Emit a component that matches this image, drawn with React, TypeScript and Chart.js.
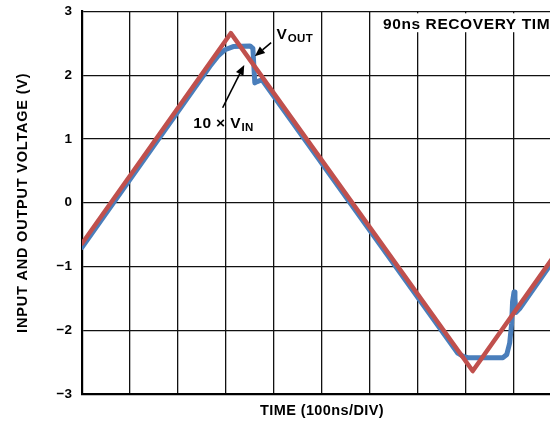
import React, { useEffect, useRef } from 'react';
import { Chart, registerables } from 'chart.js';

Chart.register(...registerables);

// ---- data (x in time divisions of 100ns, y in volts) ----
const xMin = 0;
const xMax = 10;
const yTicks = [-3, -2, -1, 0, 1, 2, 3];
const yTickLabels = ['−3', '−2', '−1', '0', '1', '2', '3'];

const vinX = [0, 3.1, 8.14, 10];
const vinY = [-0.64, 2.66, -2.64, -0.66];

const voutX = [0, 2.665, 2.83, 2.98, 3.15, 3.5, 3.56, 3.58, 3.6, 3.65, 3.75, 7.83, 7.94, 8.04, 8.77, 8.85, 8.91, 8.95, 8.97, 9.0, 9.02, 9.04, 9.12, 9.75, 10];
const voutY = [-0.7, 2.14, 2.3, 2.4, 2.45, 2.46, 2.42, 2.15, 1.88, 1.9, 1.93, -2.36, -2.41, -2.43, -2.43, -2.38, -2.2, -1.9, -1.55, -1.4, -1.5, -1.72, -1.66, -0.98, -0.72];

const seriesNames = ['10 × VIN', 'VOUT'];
const xTitle = 'TIME (100ns/DIV)';
const yTitle = 'INPUT AND OUTPUT VOLTAGE (V)';
const noteText = '90ns RECOVERY TIME';

const FONT = "'Liberation Sans', Arial, Helvetica, sans-serif";

// annotation placement (data units)
const annotations = {
  note: { x: 6.27, y: 2.73 },
  vout: { x: 4.05, y: 2.57, arrowFrom: { x: 3.94, y: 2.51 }, arrowTo: { x: 3.6, y: 2.3 } },
  vin: { x: 2.32, y: 1.17, arrowFrom: { x: 2.93, y: 1.49 }, arrowTo: { x: 3.38, y: 2.16 } },
};

function arrow(ctx: CanvasRenderingContext2D, x1: number, y1: number, x2: number, y2: number) {
  const ang = Math.atan2(y2 - y1, x2 - x1);
  const len = 10;
  const hw = 4.2;
  const bx = x2 - Math.cos(ang) * len;
  const by = y2 - Math.sin(ang) * len;
  ctx.beginPath();
  ctx.moveTo(x1, y1);
  ctx.lineTo(bx, by);
  ctx.lineWidth = 1.6;
  ctx.strokeStyle = '#000';
  ctx.stroke();
  ctx.beginPath();
  ctx.moveTo(x2, y2);
  ctx.lineTo(bx + Math.sin(ang) * hw, by - Math.cos(ang) * hw);
  ctx.lineTo(bx - Math.sin(ang) * hw, by + Math.cos(ang) * hw);
  ctx.closePath();
  ctx.fillStyle = '#000';
  ctx.fill();
}

function subText(ctx: CanvasRenderingContext2D, main: string, sub: string, x: number, y: number) {
  ctx.textAlign = 'left';
  ctx.textBaseline = 'alphabetic';
  ctx.font = `bold 15.5px ${FONT}`;
  ctx.fillText(main, x, y);
  const w = ctx.measureText(main).width;
  ctx.font = `bold 11.5px ${FONT}`;
  ctx.fillText(sub, x + w + 0.5, y + 3);
}

const annotPlugin = {
  id: 'annotPlugin',
  afterDraw(chart: any) {
    const { ctx, scales, chartArea } = chart;
    const xs = scales.x;
    const ys = scales.y;
    const px = (v: number) => xs.getPixelForValue(v);
    const py = (v: number) => ys.getPixelForValue(v);
    ctx.save();
    const c = ctx as any;

    // recovery note with white background
    const nx = px(annotations.note.x);
    const ny = py(annotations.note.y);
    ctx.fillStyle = '#fff';
    ctx.fillRect(nx - 2, chartArea.top + 1.8, chart.width - nx + 2, ny + 3.5 - chartArea.top - 1.8);
    ctx.fillStyle = '#000';
    c.letterSpacing = '0.6px';
    ctx.font = `bold 15.5px ${FONT}`;
    ctx.textAlign = 'left';
    ctx.textBaseline = 'alphabetic';
    ctx.fillText(noteText, nx, ny);

    // VOUT label
    c.letterSpacing = '0.4px';
    subText(ctx, 'V', 'OUT', px(annotations.vout.x), py(annotations.vout.y));
    // 10 x VIN label
    subText(ctx, '10 × V', 'IN', px(annotations.vin.x), py(annotations.vin.y));
    c.letterSpacing = '0px';

    arrow(ctx, px(annotations.vout.arrowFrom.x), py(annotations.vout.arrowFrom.y), px(annotations.vout.arrowTo.x), py(annotations.vout.arrowTo.y));
    arrow(ctx, px(annotations.vin.arrowFrom.x), py(annotations.vin.arrowFrom.y), px(annotations.vin.arrowTo.x), py(annotations.vin.arrowTo.y));

    // axis titles
    ctx.fillStyle = '#000';
    c.letterSpacing = '0.8px';
    ctx.font = `bold 14.5px ${FONT}`;
    ctx.textAlign = 'center';
    ctx.textBaseline = 'middle';
    ctx.save();
    ctx.translate(23, (chartArea.top + chartArea.bottom) / 2);
    ctx.rotate(-Math.PI / 2);
    ctx.fillText(yTitle, 0, 0);
    ctx.restore();

    c.letterSpacing = '0.4px';
    ctx.font = `bold 14.5px ${FONT}`;
    ctx.fillText(xTitle, (chartArea.left + chartArea.right) / 2, 411);
    c.letterSpacing = '0px';
    ctx.restore();
  },
};

export default function App() {
  const ref = useRef<HTMLCanvasElement | null>(null);
  useEffect(() => {
    if (!ref.current) return;
    Chart.defaults.font.family = FONT;
    const chart = new Chart(ref.current, {
      type: 'line',
      data: {
        datasets: [
          {
            label: seriesNames[0],
            data: vinX.map((x, i) => ({ x, y: vinY[i] })),
            borderColor: '#c0504d',
            borderWidth: 4.5,
            pointRadius: 0,
            tension: 0,
            borderJoinStyle: 'round',
            borderCapStyle: 'round',
          },
          {
            label: seriesNames[1],
            data: voutX.map((x, i) => ({ x, y: voutY[i] })),
            borderColor: '#4a7ebb',
            borderWidth: 5,
            pointRadius: 0,
            tension: 0,
            borderJoinStyle: 'round',
            borderCapStyle: 'round',
          },
        ],
      },
      options: {
        animation: false,
        responsive: true,
        maintainAspectRatio: false,
        layout: { padding: { left: 0, top: 11.5, right: 8, bottom: 0 } },
        plugins: { legend: { display: false }, tooltip: { enabled: false } },
        scales: {
          x: {
            type: 'linear',
            min: xMin,
            max: xMax,
            ticks: { display: false, stepSize: 1 },
            grid: { color: '#111', lineWidth: 1.3, drawTicks: false },
            border: { color: '#000', width: 2.2 },
            afterFit: (s: any) => { s.height = 29; s.paddingLeft = 0; s.paddingRight = 0; },
          },
          y: {
            type: 'linear',
            min: yTicks[0],
            max: yTicks[yTicks.length - 1],
            afterBuildTicks: (s: any) => { s.ticks = yTicks.map((v) => ({ value: v })); },
            ticks: {
              padding: 10,
              color: '#000',
              font: { size: 13.5, weight: 'bold', family: FONT },
              callback: (v: any) => yTickLabels[yTicks.indexOf(Number(v))] ?? '',
            },
            grid: { color: '#111', lineWidth: 1.3, drawTicks: false },
            border: { color: '#000', width: 2.2 },
            afterFit: (s: any) => { s.width = 82; s.paddingTop = 0; s.paddingBottom = 0; },
          },
        },
      },
      plugins: [annotPlugin],
    } as any);
    return () => chart.destroy();
  }, []);

  return (
    <div style={{ position: 'fixed', left: 0, top: 0, width: 550, height: 423, overflow: 'hidden', background: '#fff' }}>
      <div style={{ position: 'relative', width: 570, height: 423 }}>
        <canvas ref={ref} />
      </div>
    </div>
  );
}
